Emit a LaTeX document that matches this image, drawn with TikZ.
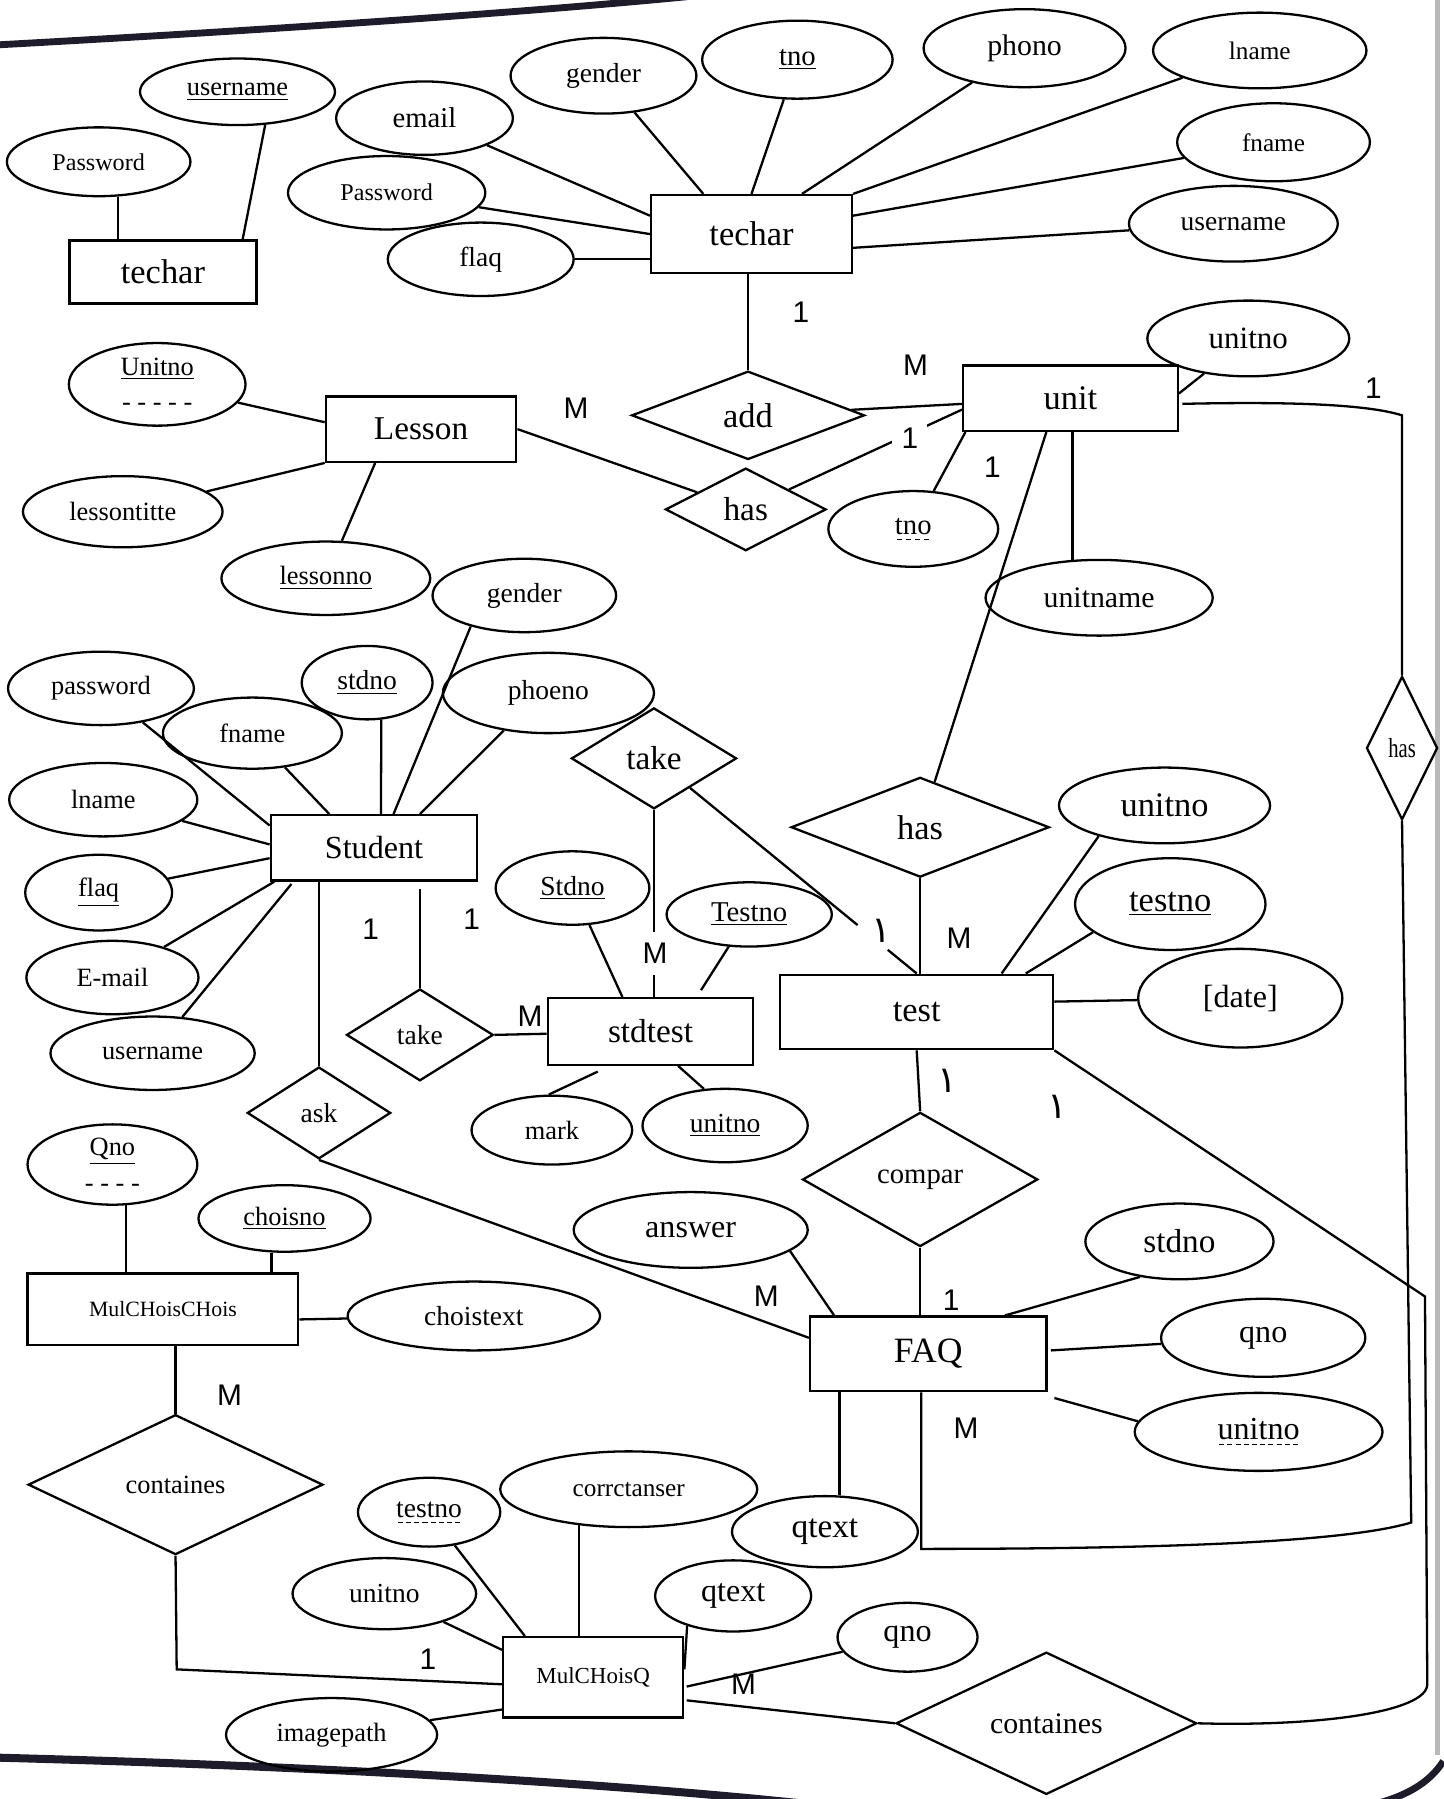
\documentclass[tikz,border=0pt]{standalone}
\usepackage{fontspec}
\setmainfont{Liberation Serif}
\newfontfamily\cardfont{Liberation Sans}
\newfontfamily\arabicfont[Script=Arabic]{DejaVu Sans}
\usetikzlibrary{calc,shapes.geometric}
\newcommand{\fsz}[1]{\fontsize{#1}{#1}\selectfont}
\newcommand{\dashul}[1]{\setbox0=\hbox{#1}\leavevmode\rlap{\copy0}\raisebox{-2.5pt}{\hbox to \wd0{\xleaders\hbox to 3.5pt{\hss\vrule width 2.2pt height 0.5pt depth 0pt\hss}\hfil}}}
\definecolor{edgeink}{HTML}{1E1B2B}

\begin{document}
\begin{tikzpicture}[x=0.5pt,y=0.5pt,yscale=-1,line width=1pt,
  entnode/.style 2 args={draw, rectangle, inner sep=0pt, minimum width=#1pt, minimum height=#2pt, font=\fsz{15}},
  relnode/.style 2 args={draw, diamond, aspect=1, inner sep=0pt, minimum width=#1pt, minimum height=#2pt, font=\fsz{14.5}},
  attnode/.style 2 args={draw, ellipse, inner sep=0pt, align=center, minimum width=#1pt, minimum height=#2pt, font=\fsz{12}},
  card/.style={font=\cardfont\fsz{13}, inner sep=1pt},
  gapcard/.style={card, fill=white, inner xsep=4pt, inner ysep=5pt},
  arabcard/.style={font=\arabicfont\fsz{16}, inner sep=1pt}]
\useasboundingbox (0,0) rectangle (1258,1568);
% page edges of the photo
\draw[edgeink, line width=3pt] (0,39) .. controls (200,28) and (450,12) .. (610,-4);
\draw[edgeink, line width=3.5pt] (0,1532) .. controls (300,1540) and (550,1556) .. (700,1572);
\draw[gray!55, line width=2.5pt] (1253,0) -- (1253,1530);
\draw[edgeink, line width=3pt] (1258,1535) .. controls (1245,1555) and (1225,1565) .. (1200,1572);

% Entities
\node[entnode={81.5}{27.5}] (techarA) at (142,237) {techar};
\node[entnode={87.5}{34}] (techarB) at (655,204) {techar};
\node[entnode={83}{28.5}, font=\fsz{14.5}] (lesson) at (367,374) {Lesson};
\node[entnode={93.5}{28.5}] (unit) at (933,347) {unit};
\node[entnode={90}{28.5}, font=\fsz{14}] (student) at (326,739) {Student};
\node[entnode={89.5}{29}, font=\fsz{14.5}] (stdtest) at (567,899) {stdtest};
\node[entnode={119}{32.5}] (test) at (799,882) {test};
\node[entnode={118}{31}, font=\fsz{9.5}] (mcc) at (142,1141) {MulCHoisCHois};
\node[entnode={103}{32.5}, font=\fsz{15.5}] (faq) at (809,1180) {FAQ};
\node[entnode={78.5}{35}, font=\fsz{10}] (mcq) at (517,1462) {MulCHoisQ};

% Relations
\node[relnode={101.5}{38.5}, font=\fsz{15}] (add) at (652,362) {add};
\node[relnode={70}{36}] (hasA) at (650,444) {has};
\node[relnode={112.5}{43.5}, font=\fsz{15}] (hasB) at (802,721) {has};
\node[relnode={31}{62.5}, font=\fsz{12}] (hasC) at (1222,652) {\scalebox{0.75}[1]{has}};
\node[relnode={72}{44}] (takeA) at (570,661) {take};
\node[relnode={64}{40}, font=\fsz{12}] (takeB) at (366,902) {take};
\node[relnode={62.5}{40}, font=\fsz{12}] (ask) at (278,970) {ask};
\node[relnode={102.5}{58.5}, font=\fsz{12.5}] (compar) at (802,1028) {compar};
\node[relnode={128.5}{61}, font=\fsz{11.5}] (contA) at (153,1294) {containes};
\node[relnode={131}{62}, font=\fsz{13}] (contB) at (912,1502) {containes};

% Attributes of techar
\node[attnode={85}{29}, font=\fsz{11.5}] (aUserA) at (207,80) {\underline{username}};
\node[attnode={80}{30}, font=\fsz{10.5}] (aPassA) at (86,141) {Password};
\node[attnode={77}{32}, font=\fsz{12.5}] (aEmail) at (370,103) {email};
\node[attnode={81}{33}] (aGenderA) at (526,66) {gender};
\node[attnode={83}{34}, font=\fsz{12.5}] (aTnoA) at (695,52) {\underline{tno}};
\node[attnode={88}{34}, font=\fsz{13}] (aPhono) at (893,42) {phono};
\node[attnode={93}{33}, font=\fsz{11}] (aLname) at (1098,44) {lname};
\node[attnode={84}{34}, font=\fsz{11}] (aFname) at (1110,124) {fname};
\node[attnode={91}{33}] (aUserB) at (1075,195) {username};
\node[attnode={86}{32}, font=\fsz{10.5}] (aPassB) at (337,168) {Password};
\node[attnode={81}{32}] (aFlaqA) at (419,226) {flaq};

% Attributes of Lesson and unit
\node[attnode={77}{36}, font=\fsz{11.5}] (aUnitnoL) at (137,335) {\underline{Unitno}\\[4pt]- - - - -};
\node[attnode={87}{31}, font=\fsz{11.5}] (aTitle) at (107,446) {lessontitte};
\node[attnode={91}{32}, font=\fsz{11.5}] (aLessonno) at (284,504) {\underline{lessonno}};
\node[attnode={88}{33}, font=\fsz{13.5}] (aUnitnoU) at (1088,295) {unitno};
\node[attnode={74}{33}, font=\fsz{12.5}] (aTnoU) at (796,461) {\dashul{tno}};
\node[attnode={99}{33}, font=\fsz{13}] (aUnitname) at (958,521) {unitname};

% Attributes of Student
\node[attnode={80}{32}] (aGenderS) at (457,519) {gender};
\node[attnode={81}{32}, font=\fsz{11.5}] (aPassS) at (88,600) {password};
\node[attnode={57}{32}] (aStdno) at (320,595) {\underline{stdno}};
\node[attnode={92}{35}] (aPhoeno) at (478,604) {phoeno};
\node[attnode={78}{31}, font=\fsz{11.5}] (aFnameS) at (220,639) {fname};
\node[attnode={82}{32}, font=\fsz{11.5}] (aLnameS) at (90,697) {lname};
\node[attnode={64}{33}, font=\fsz{11.5}] (aFlaqS) at (86,778) {\underline{flaq}};
\node[attnode={75}{32}, font=\fsz{11.5}] (aEmailS) at (98,852) {E-mail};
\node[attnode={89}{32}, font=\fsz{11.5}] (aUserS) at (133,918) {username};

% Attributes of stdtest and test
\node[attnode={67}{32}] (aStdnoT) at (499,774) {\underline{Stdno}};
\node[attnode={72}{28}, font=\fsz{12.5}] (aTestno) at (653,797) {\underline{Testno}};
\node[attnode={70}{30}, font=\fsz{11.5}] (aMark) at (481,985) {mark};
\node[attnode={72}{32}] (aUnitnoST) at (632,981) {\underline{unitno}};
\node[attnode={92}{33}, font=\fsz{15}] (aUnitnoT) at (1015,702) {unitno};
\node[attnode={83}{40}, font=\fsz{15}] (aTestnoT) at (1020,788) {\underline{testno}};
\node[attnode={89}{43}, font=\fsz{14}] (aDate) at (1081,870) {[date]};

% Attributes of MulCHoisCHois and FAQ
\node[attnode={74}{35}, font=\fsz{11.5}] (aQno) at (98,1015) {\underline{Qno}\\[4pt]- - - -};
\node[attnode={75}{29}, font=\fsz{11.5}] (aChoisno) at (248,1062) {\underline{choisno}};
\node[attnode={110}{30}] (aChoistext) at (413,1147) {choistext};
\node[attnode={102}{33}, font=\fsz{14}] (aAnswer) at (602,1072) {answer};
\node[attnode={82}{33}, font=\fsz{14.5}] (aStdnoF) at (1028,1082) {stdno};
\node[attnode={89}{34}, font=\fsz{14}] (aQnoF) at (1101,1166) {qno};
\node[attnode={108}{34}, font=\fsz{14}] (aUnitnoF) at (1097,1248) {\dashul{unitno}};
\node[attnode={81}{31}, font=\fsz{14.5}] (aQtextF) at (719,1335) {qtext};

% Attributes of MulCHoisQ
\node[attnode={62}{30}] (aTestnoQ) at (374,1318) {\dashul{testno}};
\node[attnode={112}{33}, font=\fsz{11}] (aCorr) at (548,1298) {corrctanser};
\node[attnode={80}{31}] (aUnitnoQ) at (335,1389) {unitno};
\node[attnode={68}{31}, font=\fsz{14}] (aQtextQ) at (639,1391) {qtext};
\node[attnode={61}{30}, font=\fsz{14}] (aQnoQ) at (791,1427) {qno};
\node[attnode={92}{32}, font=\fsz{11.5}] (aImage) at (289,1512) {imagepath};

% bend points
\coordinate (topA) at (1222,362);
\coordinate (downA) at (1230,1327);
\coordinate (faqM) at (803,1350);
\coordinate (bendB) at (1242,1130);
\coordinate (downB) at (1244,1468);
\coordinate (cornerB) at (154,1455);

% techar lines
\draw (aPassA.-61.4) -- (aPassA.-61.4 |- techarA.north);
\draw (aUserA.-50) -- ($(techarA.north east)+(-13,0)$);
\draw (aEmail) -- ($(techarB.west)+(0,-16)$);
\draw (aGenderA) -- ($(techarB.north)+(-42,0)$);
\draw (aTnoA) -- (techarB.north);
\draw (aPhono) -- ($(techarB.north)+(44,0)$);
\draw (aLname) -- (techarB.north east);
\draw (aFname) -- ($(techarB.east)+(0,-16)$);
\draw (aUserB) -- ($(techarB.east)+(0,12)$);
\draw (aPassB) -- (techarB.west);
\draw (aFlaqA) -- ($(techarB.west)+(0,22)$);
\draw (add.north |- techarB.south) -- (add.north);
\draw (add) -- (unit);

% Lesson and unit lines
\draw (aUnitnoL) -- ($(lesson.west)+(0,-6)$);
\draw (aTitle) -- (lesson.south west);
\draw (aLessonno) -- ($(lesson.south)+(-40,0)$);
\draw (lesson.east) -- (hasA);
\draw (hasA) -- ($(unit.west)+(0,10)$);
\draw ($(unit.south west)+(3,0)$) -- (aTnoU);
\draw ($(unit.south)+(-21,0)$) -- (hasB);
\draw (aUnitname.125.7 |- unit.south) -- (aUnitname.125.7);
\draw ($(unit.east)+(0,-4)$) -- (aUnitnoU);
\draw ($(unit.east)+(3,5)$) .. controls (1120,350) and (1190,352) .. (topA) -- (hasC.north);
\draw (hasC.south) -- (downA) .. controls (1180,1342) and (1050,1350) .. (faqM) -- (faqM |- faq.south);

% Student lines
\draw (aPassS) -- ($(student.north west)+(0,10)$);
\draw (aFnameS) -- ($(student.north west)+(52,0)$);
\draw (aStdno.-69) -- ($(student.north)+(6,0)$);
\draw (aGenderS.-150) -- ($(student.north)+(17,0)$);
\draw (aPhoeno.-140) -- ($(student.north)+(40,0)$);
\draw (aLnameS) -- ($(student.west)+(0,-3)$);
\draw (aFlaqS) -- ($(student.west)+(0,9)$);
\draw (aEmailS) -- ($(student.south west)+(4,0)$);
\draw (aUserS) -- ($(student.south west)+(19,2)$);
\draw (ask.north |- student.south) -- (ask.north);
\draw ($(takeB.north |- student.south)+(0,6)$) -- (takeB.north);
\draw (takeB.east) -- (stdtest);

% stdtest and test lines
\draw (takeA.south) -- (takeA.south |- stdtest.north);
\draw (takeA) -- ($(takeA)!0.775!(test.north)$);
\draw ($(takeA)!0.89!(test.north)$) -- (test.north);
\draw (aStdnoT) -- ($(stdtest.north west)+(66,0)$);
\draw (aTestno) -- ($(stdtest.north)+(44,-6)$);
\draw (aMark.95) -- ($(stdtest.south)+(-46,5)$);
\draw (aUnitnoST.120) -- ($(stdtest.south)+(24,0)$);
\draw (hasB.south) -- (hasB.south |- test.north);
\draw (aUnitnoT.-155) -- ($(test.north east)+(-46,0)$);
\draw (aTestnoT.-160) -- ($(test.north east)+(-25,0)$);
\draw ($(test.east)+(0,-9)$) -- (aDate);
\draw (test.south) -- (compar.north);
\draw (test.south east) -- (bendB) -- (downB) .. controls (1244,1492) and (1150,1505) .. (contB.east);

% FAQ lines
\draw (compar.south) -- (compar.south |- faq.north);
\draw (ask.south) -- ($(faq.west)+(0,-14)$);
\draw (aAnswer.-12) -- ($(faq.north west)+(22,0)$);
\draw (aStdnoF.-138) -- ($(faq.north east)+(-37,0)$);
\draw ($(faq.east)+(3,-3)$) -- (aQnoF);
\draw ($(faq.south east)+(6,5)$) -- (aUnitnoF.175);
\draw (aQtextF.68.6 |- faq.south) -- (aQtextF.68.6);

% MulCHoisCHois and MulCHoisQ lines
\draw (aQno.-72.4) -- (aQno.-72.4 |- mcc.north);
\draw (aChoisno.-111) -- (aChoisno.-111 |- mcc.north);
\draw (aChoistext) -- ($(mcc.east)+(0,9)$);
\draw (contA.north |- mcc.south) -- (contA.north);
\draw (contA.south) -- (cornerB) -- ($(mcq.west)+(0,6)$);
\draw (aTestnoQ) -- ($(mcq.north west)+(20,0)$);
\draw (aCorr.-144.7) -- (aCorr.-144.7 |- mcq.north);
\draw (aUnitnoQ) -- ($(mcq.north west)+(0,12)$);
\draw (aQtextQ.-147) -- ($(mcq.east)+(0,-7)$);
\draw (aQnoQ) -- ($(mcq.east)+(2,8)$);
\draw ($(mcq.east)+(2,20)$) -- (contB.west);
\draw (aImage) -- ($(mcq.south west)+(0,-8)$);

% cardinalities
\node[card] (c1) at (698,272) {1};
\node[card] (c2) at (798,318) {M};
\node[card] (c3) at (502,356) {M};
\node[gapcard] (c4) at (793,382) {1};
\node[card] (c5) at (865,407) {1};
\node[card] (c6) at (1197,338) {1};
\node[card] (c7) at (323,810) {1};
\node[card] (c8) at (411,801) {1};
\node[card] (c9) at (462,886) {M};
\node[gapcard] (c10) at (571,831) {M};
\node[arabcard] (c11) at (768,811) {١};
\node[card] (c12) at (836,818) {M};
\node[arabcard] (c13) at (826,942) {١};
\node[arabcard] (c14) at (922,965) {١};
\node[card] (c15) at (829,1133) {1};
\node[card] (c16) at (668,1130) {M};
\node[card] (c17) at (842,1245) {M};
\node[card] (c18) at (200,1216) {M};
\node[card] (c19) at (373,1446) {1};
\node[card] (c20) at (648,1468) {M};
\end{tikzpicture}
\end{document}
